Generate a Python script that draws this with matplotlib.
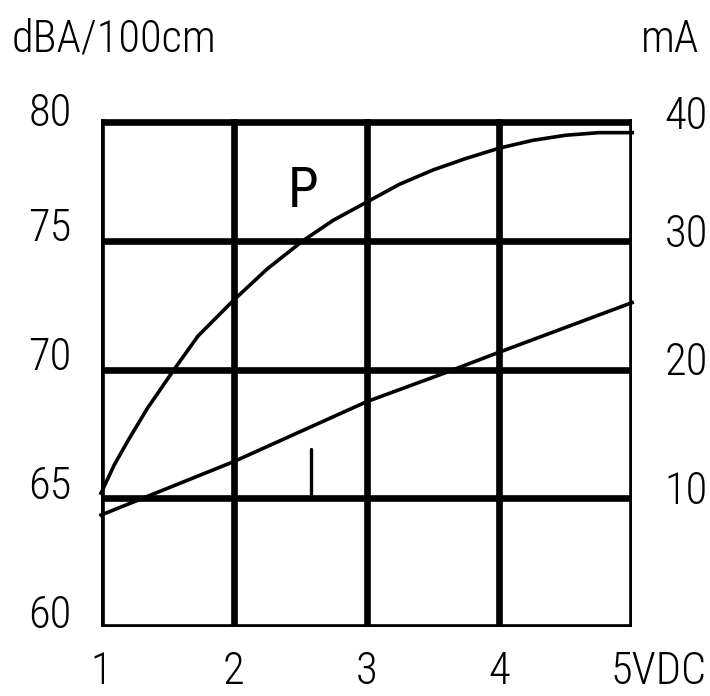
import matplotlib.pyplot as plt
from matplotlib import font_manager
from matplotlib.font_manager import FontProperties
from matplotlib.transforms import blended_transform_factory

# values
p_volts = [1.0, 1.1, 1.21, 1.35, 1.55, 1.73, 2.0, 2.25, 2.52, 2.75, 3.0, 3.25, 3.5,
           3.75, 4.0, 4.25, 4.5, 4.75, 5.0]
p_dba = [65.2, 66.3, 67.3, 68.5, 70.0, 71.3, 72.7, 73.9, 75.0, 75.8, 76.5, 77.2, 77.75,
         78.2, 78.6, 78.9, 79.1, 79.2, 79.2]
i_volts = [1.0, 1.41, 2.0, 3.0, 3.58, 4.0, 5.0]
i_ma = [8.7, 10.4, 12.85, 17.5, 19.7, 21.35, 25.2]

left_ticks = [60, 65, 70, 75, 80]
right_ticks = [10, 20, 30, 40]
x_ticks = [1, 2, 3, 4]

# the drawing uses narrow technical lettering, so look for a condensed face
files = [f.fname for f in font_manager.fontManager.ttflist]

def find_font(keys):
    for key in keys:
        hits = [f for f in files if key in f and 'Italic' not in f and 'Oblique' not in f]
        if hits:
            return hits[0]
    return None

thin_file = find_font(['RobotoCondensed-Light', 'RobotoCondensed-Regular',
                       'DejaVuSansCondensed.ttf', 'Condensed'])
mid_file = find_font(['RobotoCondensed-Regular', 'RobotoCondensed-Medium',
                      'DejaVuSansCondensed.ttf', 'Condensed'])

def fp(size, f=None):
    f = f or thin_file
    if f:
        return FontProperties(fname=f, size=size)
    return FontProperties(family='DejaVu Sans', size=size)

fs = 32

fig = plt.figure(figsize=(7.10, 6.96), dpi=100)
# axes spans 60..80; the drawn frame top sits a bit lower (79.6) like the original
ax = fig.add_axes([0.1423, 0.0991, 0.748, 0.7399])
ax.set_xlim(1, 5)
ax.set_ylim(60, 80)
ax.set_xticks([])
ax.set_yticks([])

lw_grid = 4.8
for s in ax.spines.values():
    s.set_visible(False)
for x in [1, 2, 3, 4, 5]:
    ax.plot([x, x], [60, 79.6], color='black', lw=lw_grid, solid_capstyle='projecting', zorder=1)
for y in [60, 65, 70, 75, 79.6]:
    ax.plot([1, 5], [y, y], color='black', lw=lw_grid, solid_capstyle='projecting', zorder=1)

ax.plot(p_volts, p_dba, color='black', lw=2.6, zorder=3, clip_on=False)

ax2 = ax.twinx()
ax2.set_ylim(0, 40)
ax2.set_yticks([])
for s in ax2.spines.values():
    s.set_visible(False)
ax2.plot(i_volts, i_ma, color='black', lw=2.6, zorder=3, clip_on=False)

# curve names
ax.text(2.52, 76.9, 'P', fontproperties=fp(40, mid_file), ha='center', va='center')
ax.plot([2.58, 2.58], [65.0, 66.9], color='black', lw=2.4, solid_capstyle='round')

# tick labels
tl = blended_transform_factory(fig.transFigure, ax.transData)
for v in left_ticks:
    off = -0.05 if v == 80 else 0.45
    ax.text(50 / 710, v + off, str(v), transform=tl, fontproperties=fp(fs),
            ha='center', va='center')
tr = blended_transform_factory(fig.transFigure, ax2.transData)
for v in right_ticks:
    off = -0.4 if v == 40 else 0.5
    ax2.text(686 / 710, v + off, str(v), transform=tr, fontproperties=fp(fs),
             ha='center', va='center')
tb = blended_transform_factory(ax.transData, fig.transFigure)
for v in x_ticks:
    ax.text(v, 1 - 672 / 696, str(v), transform=tb, fontproperties=fp(fs),
            ha='center', va='center')
ax.text(4.84, 1 - 672 / 696, '5VDC', transform=tb, fontproperties=fp(fs),
        ha='left', va='center')

fig.text(12 / 710, 1 - 52 / 696, 'dBA/100cm', fontproperties=fp(fs), ha='left', va='baseline')
fig.text(699 / 710, 1 - 52 / 696, 'mA', fontproperties=fp(fs), ha='right', va='baseline')

fig.savefig('out.png', dpi=100)
